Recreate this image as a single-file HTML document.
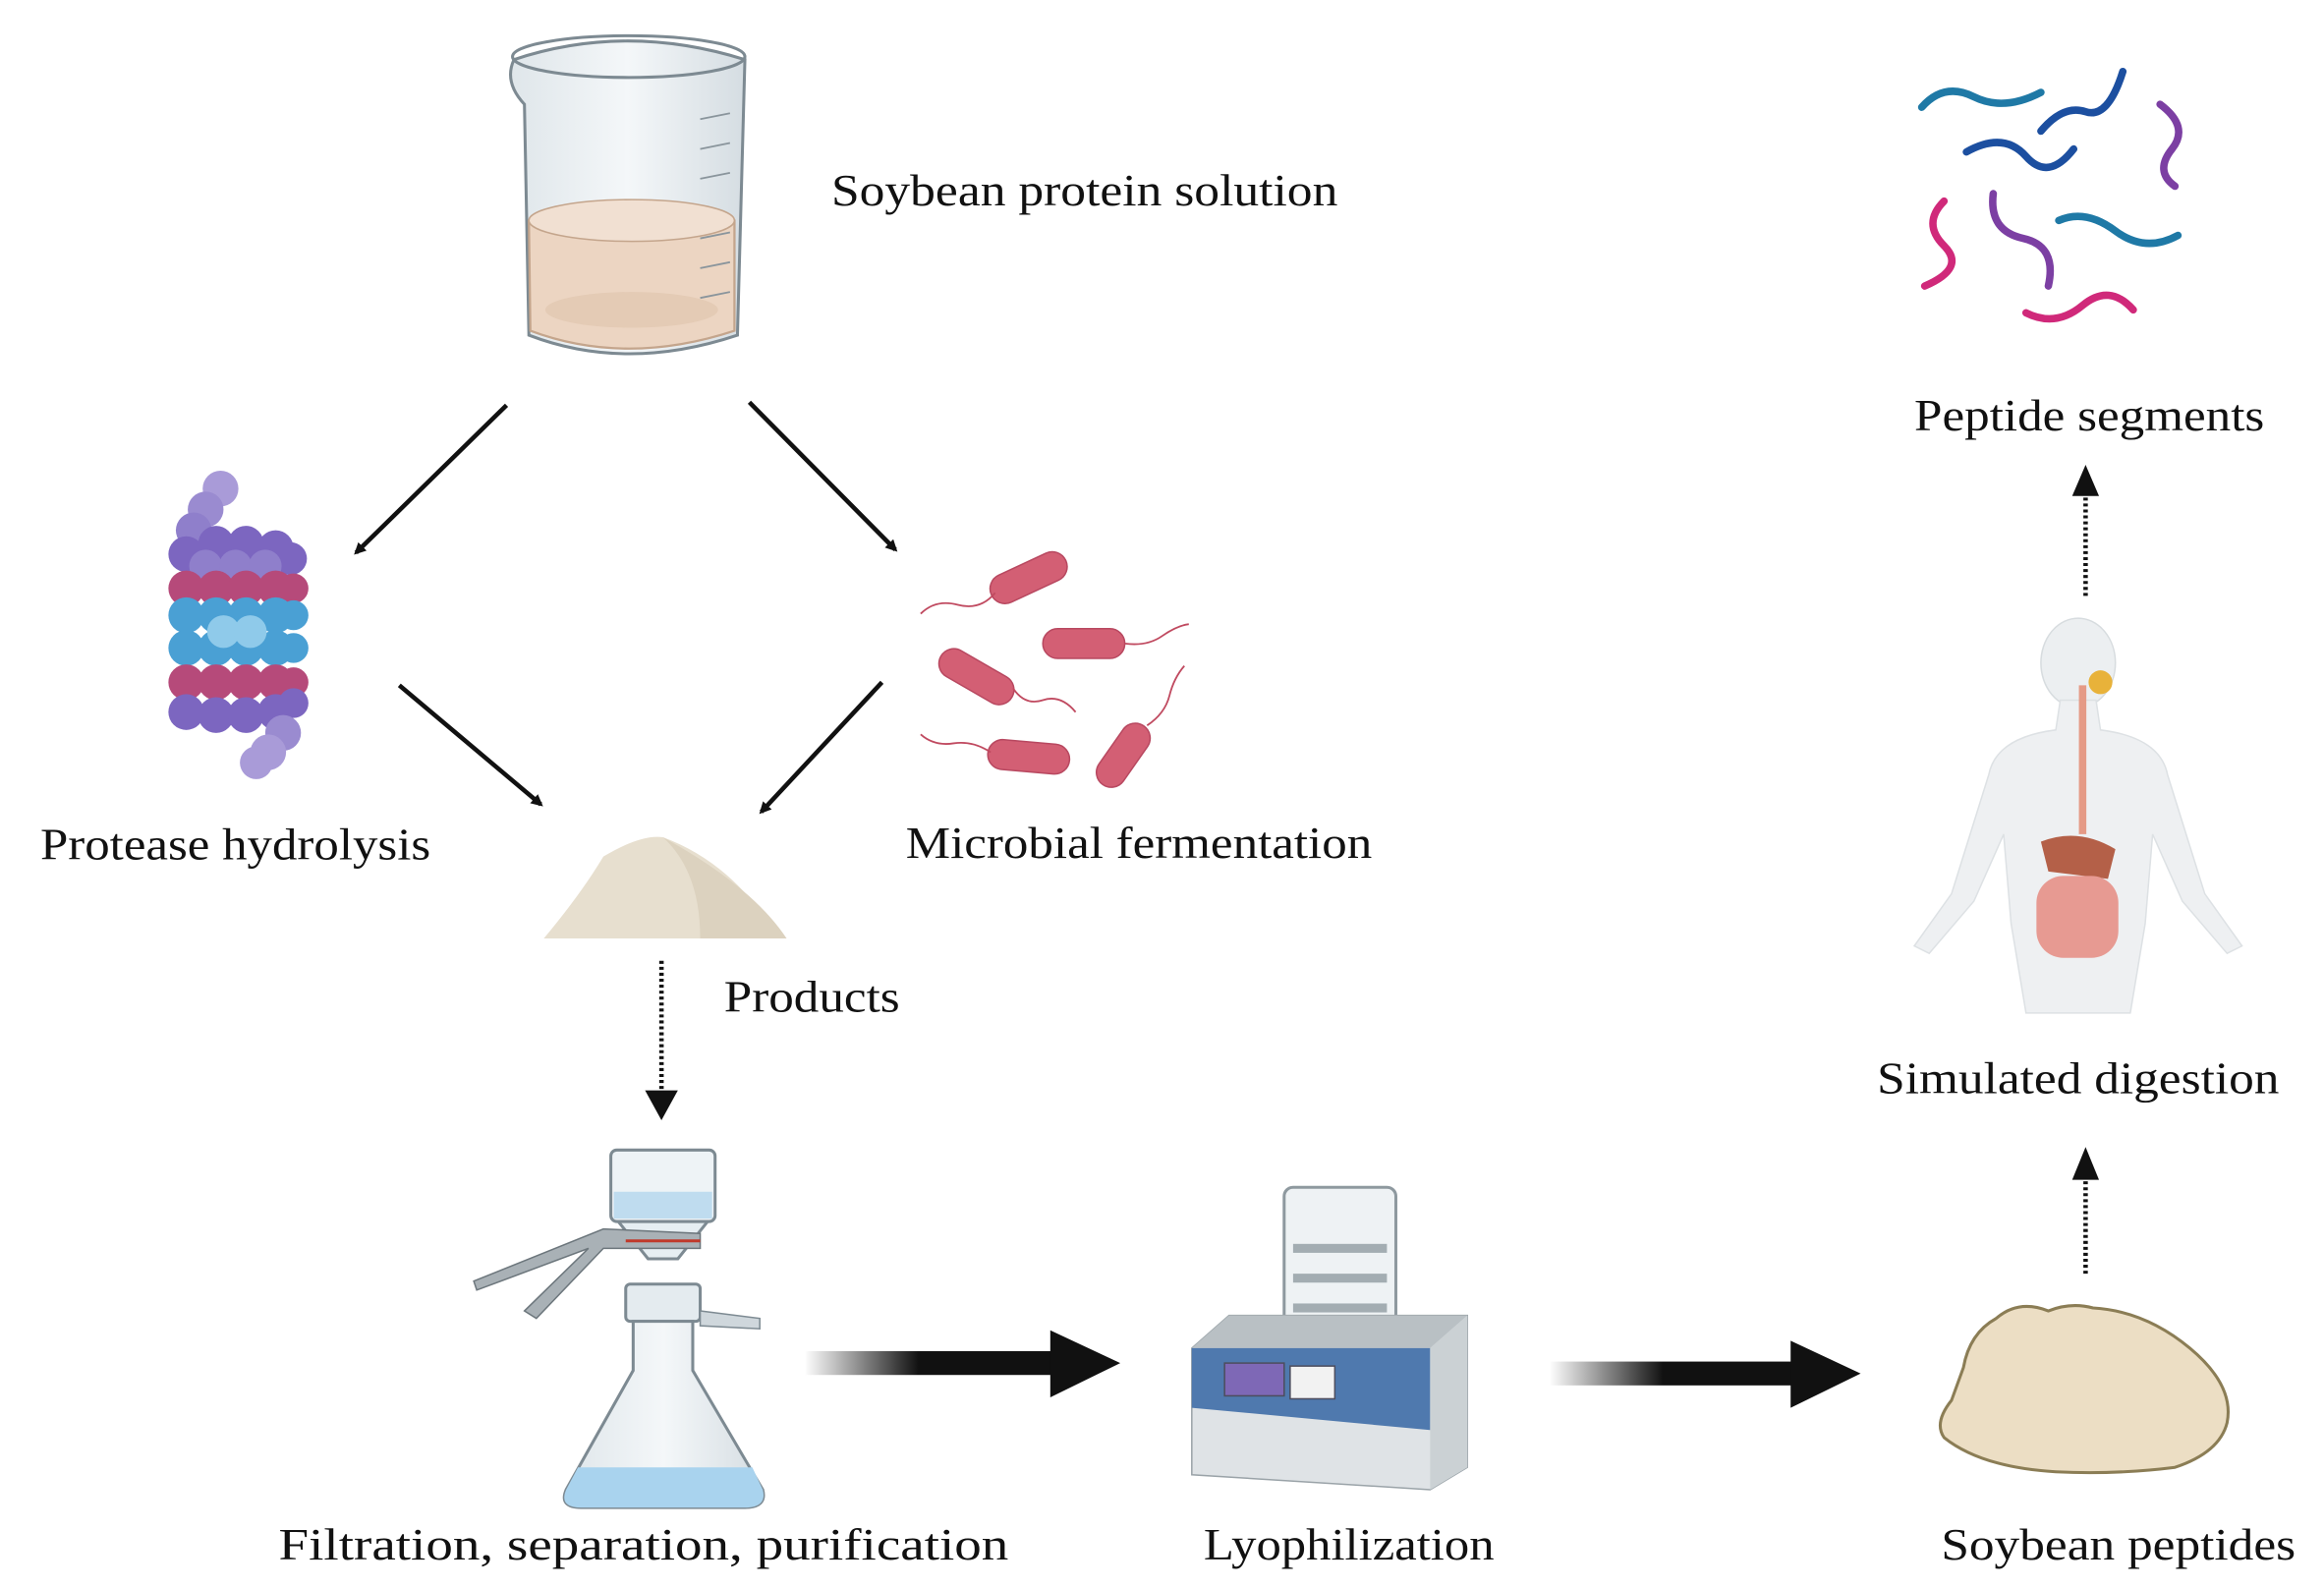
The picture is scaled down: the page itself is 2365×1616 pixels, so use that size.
<!DOCTYPE html>
<html><head><meta charset="utf-8"><style>html,body{margin:0;padding:0;background:#fff}svg{display:block}text{font-family:"Liberation Serif",serif;fill:#111;font-size:30px}</style></head><body>
<svg width="2365" height="1616" viewBox="0 0 1560 1066" xmlns="http://www.w3.org/2000/svg">
<defs>
<marker id="ah" markerWidth="8" markerHeight="8" refX="6" refY="4" orient="auto" markerUnits="userSpaceOnUse" viewBox="0 0 8 8"><path d="M0,0 L8,4 L0,8 z" fill="#111"/></marker>
<linearGradient id="g1" x1="0" x2="1"><stop offset="0" stop-color="#111" stop-opacity="0"/><stop offset="0.45" stop-color="#111"/><stop offset="1" stop-color="#111"/></linearGradient>
<linearGradient id="gl" x1="0" x2="1"><stop offset="0" stop-color="#dfe6ea"/><stop offset="0.5" stop-color="#f4f7f9"/><stop offset="1" stop-color="#d5dde2"/></linearGradient>
</defs>

<!-- beaker -->
<path d="M345,40 Q420,15 500,40 L495,225 Q420,250 355,225 L352,70 Q338,55 345,40 z" fill="url(#gl)" stroke="#7d8a92" stroke-width="2"/>
<path d="M355,148 Q425,128 493,148 L493,222 Q420,246 356,222 z" fill="#ecd5c2" stroke="#c4a58c" stroke-width="1.5"/>
<ellipse cx="424" cy="148" rx="69" ry="14" fill="#f1e0d2" stroke="#c4a58c"/>
<ellipse cx="424" cy="208" rx="58" ry="12" fill="#e4cbb5"/>
<ellipse cx="422" cy="38" rx="78" ry="14" fill="none" stroke="#7d8a92" stroke-width="2"/>
<g stroke="#8a959c" stroke-width="1.2"><line x1="470" y1="80" x2="490" y2="76"/><line x1="470" y1="100" x2="490" y2="96"/><line x1="470" y1="120" x2="490" y2="116"/><line x1="470" y1="160" x2="490" y2="156"/><line x1="470" y1="180" x2="490" y2="176"/><line x1="470" y1="200" x2="490" y2="196"/></g>
<text x="558" y="138" textLength="340" lengthAdjust="spacingAndGlyphs">Soybean protein solution</text>

<!-- arrows -->
<g stroke="#111" stroke-width="3" marker-end="url(#ah)">
<line x1="340" y1="272" x2="239" y2="371"/>
<line x1="503" y1="270" x2="601" y2="369"/>
<line x1="268" y1="460" x2="363" y2="540"/>
<line x1="592" y1="458" x2="511" y2="545"/>
</g>

<!-- protein helix -->
<g>
<circle cx="148" cy="328" r="12" fill="#a99bd8"/><circle cx="138" cy="342" r="12" fill="#9a8bd0"/><circle cx="130" cy="356" r="12" fill="#8f7fcb"/>
<g fill="#7c66c0"><circle cx="125" cy="372" r="12"/><circle cx="145" cy="365" r="12"/><circle cx="165" cy="365" r="12"/><circle cx="185" cy="368" r="12"/><circle cx="195" cy="375" r="11"/></g>
<g fill="#8f7fcb"><circle cx="138" cy="380" r="11"/><circle cx="158" cy="380" r="11"/><circle cx="178" cy="380" r="11"/></g>
<g fill="#b64a7a"><circle cx="125" cy="395" r="12"/><circle cx="145" cy="395" r="12"/><circle cx="165" cy="395" r="12"/><circle cx="185" cy="395" r="12"/><circle cx="197" cy="395" r="10"/></g>
<g fill="#4aa0d4"><circle cx="125" cy="413" r="12"/><circle cx="145" cy="413" r="12"/><circle cx="165" cy="413" r="12"/><circle cx="185" cy="413" r="12"/><circle cx="197" cy="413" r="10"/>
<circle cx="125" cy="435" r="12"/><circle cx="145" cy="435" r="12"/><circle cx="165" cy="435" r="12"/><circle cx="185" cy="435" r="12"/><circle cx="197" cy="435" r="10"/></g>
<g fill="#8fcaea"><circle cx="150" cy="424" r="11"/><circle cx="168" cy="424" r="11"/></g>
<g fill="#b64a7a"><circle cx="125" cy="458" r="12"/><circle cx="145" cy="458" r="12"/><circle cx="165" cy="458" r="12"/><circle cx="185" cy="458" r="12"/><circle cx="197" cy="458" r="10"/></g>
<g fill="#7c66c0"><circle cx="125" cy="478" r="12"/><circle cx="145" cy="480" r="12"/><circle cx="165" cy="480" r="12"/><circle cx="185" cy="478" r="12"/><circle cx="197" cy="472" r="10"/></g>
<circle cx="190" cy="492" r="12" fill="#9a8bd0"/><circle cx="180" cy="505" r="12" fill="#a99bd8"/><circle cx="172" cy="512" r="11" fill="#a99bd8"/>
</g>
<text x="27" y="577" textLength="262" lengthAdjust="spacingAndGlyphs">Protease hydrolysis</text>

<!-- bacteria -->
<g fill="#d35f74" stroke="#b84860" stroke-width="1">
<rect x="663" y="378" width="55" height="20" rx="10" transform="rotate(-25 690 388)"/>
<rect x="700" y="422" width="55" height="20" rx="10"/>
<rect x="628" y="444" width="55" height="20" rx="10" transform="rotate(30 655 454)"/>
<rect x="663" y="498" width="55" height="20" rx="10" transform="rotate(5 690 508)"/>
<rect x="730" y="497" width="48" height="20" rx="10" transform="rotate(-55 754 507)"/>
</g>
<g fill="none" stroke="#c04a60" stroke-width="1.2">
<path d="M668,398 q-10,12 -25,8 t-25,6"/><path d="M755,432 q15,2 25,-5 t18,-8"/><path d="M680,462 q8,12 20,8 t22,8"/><path d="M665,505 q-12,-8 -25,-6 t-22,-6"/><path d="M770,487 q12,-8 15,-20 t10,-20"/>
</g>
<text x="608" y="576" textLength="313" lengthAdjust="spacingAndGlyphs">Microbial fermentation</text>

<!-- powder -->
<path d="M365,630 Q390,600 405,575 Q430,560 445,562 Q480,575 505,605 Q520,622 528,630 z" fill="#e7dfcf"/>
<path d="M445,562 Q470,585 470,630 L528,630 Q505,595 445,562z" fill="#dcd2bf"/>
<text x="486" y="679" textLength="118" lengthAdjust="spacingAndGlyphs">Products</text>

<!-- dotted down -->
<line x1="444" y1="645" x2="444" y2="735" stroke="#111" stroke-width="3" stroke-dasharray="2,2"/>
<path d="M433,732 L455,732 L444,752 z" fill="#111"/>

<!-- filtration -->
<g>
<rect x="410" y="772" width="70" height="48" rx="4" fill="#eef3f6" stroke="#7d8a92" stroke-width="2"/>
<rect x="412" y="800" width="66" height="18" fill="#bfdcef"/>
<path d="M415,820 L475,820 L455,845 L435,845 z" fill="#e6eef2" stroke="#7d8a92" stroke-width="2"/>
<path d="M318,860 L405,825 L470,828 L470,838 L405,838 L360,885 L352,880 L395,838 L320,866 z" fill="#a9b1b6" stroke="#6c767c"/>
<line x1="420" y1="833" x2="470" y2="833" stroke="#c0392b" stroke-width="2"/>
<rect x="420" y="862" width="50" height="25" rx="3" fill="#e4ebef" stroke="#7d8a92" stroke-width="2"/>
<path d="M470,880 L510,885 L510,892 L470,890 z" fill="#cfd7dc" stroke="#7d8a92"/>
<path d="M425,887 L465,887 L465,920 L512,1000 Q515,1012 500,1012 L390,1012 Q375,1012 380,1000 L425,920 z" fill="url(#gl)" stroke="#7d8a92" stroke-width="2"/>
<path d="M388,985 L505,985 L512,1000 Q515,1012 500,1012 L390,1012 Q375,1012 380,1000 z" fill="#a9d3ee"/>
</g>
<text x="187" y="1047" textLength="490" lengthAdjust="spacingAndGlyphs">Filtration,   separation,   purification</text>

<!-- big arrow 1 -->
<rect x="540" y="907" width="170" height="16" fill="url(#g1)"/>
<path d="M705,893 L752,915 L705,938 z" fill="#111"/>

<!-- lyophilizer -->
<g>
<rect x="862" y="797" width="75" height="100" rx="6" fill="#eef2f4" stroke="#8e999f" stroke-width="2"/>
<g fill="#a3adb2"><rect x="868" y="835" width="63" height="6"/><rect x="868" y="855" width="63" height="6"/><rect x="868" y="875" width="63" height="6"/></g>
<path d="M825,883 L985,883 L985,985 L960,1000 L800,990 L800,905 z" fill="#dfe3e6" stroke="#9aa3a8"/>
<path d="M800,905 L825,883 L985,883 L960,905 z" fill="#b9c0c4"/>
<path d="M800,905 L960,905 L960,960 L800,945 z" fill="#4f79ae"/>
<rect x="822" y="915" width="40" height="22" fill="#7e68b6" stroke="#4d4d5e"/>
<rect x="866" y="917" width="30" height="22" fill="#f2f2f2" stroke="#4d4d5e"/>
<path d="M960,905 L985,883 L985,985 L960,1000 z" fill="#cbd1d4"/>
</g>
<text x="808" y="1047" textLength="195" lengthAdjust="spacingAndGlyphs">Lyophilization</text>

<!-- big arrow 2 -->
<rect x="1040" y="914" width="170" height="16" fill="url(#g1)"/>
<path d="M1202,900 L1249,922 L1202,945 z" fill="#111"/>

<!-- soybean peptides pile -->
<path d="M1318,918 Q1322,895 1340,885 Q1355,872 1375,880 Q1390,874 1405,878 Q1440,880 1470,905 Q1500,930 1495,955 Q1490,975 1460,985 Q1420,990 1380,988 Q1330,985 1305,965 Q1298,955 1310,940 z" fill="#ecdec4" stroke="#8b7d55" stroke-width="2"/>
<text x="1303" y="1047" textLength="238" lengthAdjust="spacingAndGlyphs">Soybean peptides</text>

<!-- dotted up (bottom) -->
<line x1="1400" y1="855" x2="1400" y2="790" stroke="#111" stroke-width="3" stroke-dasharray="2,2"/>
<path d="M1391,792 L1409,792 L1400,770 z" fill="#111"/>
<text x="1260" y="734" textLength="270" lengthAdjust="spacingAndGlyphs">Simulated digestion</text>

<!-- human -->
<g>
<ellipse cx="1395" cy="445" rx="25" ry="30" fill="#eceff1" stroke="#d7dcdf"/>
<path d="M1383,470 L1407,470 L1410,490 Q1450,495 1455,520 L1480,600 L1505,635 L1495,640 L1465,605 L1445,560 L1440,620 L1430,680 L1360,680 L1350,620 L1345,560 L1325,605 L1295,640 L1285,635 L1310,600 L1335,520 Q1340,495 1380,490 z" fill="#eef0f2" stroke="#dde1e4"/>
<line x1="1398" y1="460" x2="1398" y2="560" stroke="#e59a86" stroke-width="5"/>
<path d="M1370,565 Q1395,555 1420,570 L1415,590 L1375,585 z" fill="#b46048"/>
<rect x="1367" y="588" width="55" height="55" rx="18" fill="#e79a92"/>
<circle cx="1410" cy="458" r="8" fill="#e8b23a"/>
</g>

<!-- dotted up (top) -->
<line x1="1400" y1="400" x2="1400" y2="332" stroke="#111" stroke-width="3" stroke-dasharray="2,2"/>
<path d="M1391,333 L1409,333 L1400,312 z" fill="#111"/>
<text x="1285" y="289" textLength="235" lengthAdjust="spacingAndGlyphs">Peptide segments</text>

<!-- peptide squiggles -->
<g fill="none" stroke-width="5" stroke-linecap="round">
<path d="M1290,72 Q1305,55 1325,65 T1370,62" stroke="#1f79a6"/>
<path d="M1370,88 Q1385,70 1400,75 T1425,48" stroke="#1c4fa0"/>
<path d="M1320,102 Q1345,88 1360,105 T1392,100" stroke="#1c4fa0"/>
<path d="M1450,70 Q1470,85 1458,100 T1460,125" stroke="#7c3fa3"/>
<path d="M1305,135 Q1290,150 1305,165 T1292,192" stroke="#d0297a"/>
<path d="M1338,130 Q1335,155 1358,160 T1375,192" stroke="#7c3fa3"/>
<path d="M1382,148 Q1400,140 1420,155 T1462,158" stroke="#1f79a6"/>
<path d="M1360,210 Q1380,220 1398,205 T1432,208" stroke="#d0297a"/>
</g>
</svg>
</body></html>
